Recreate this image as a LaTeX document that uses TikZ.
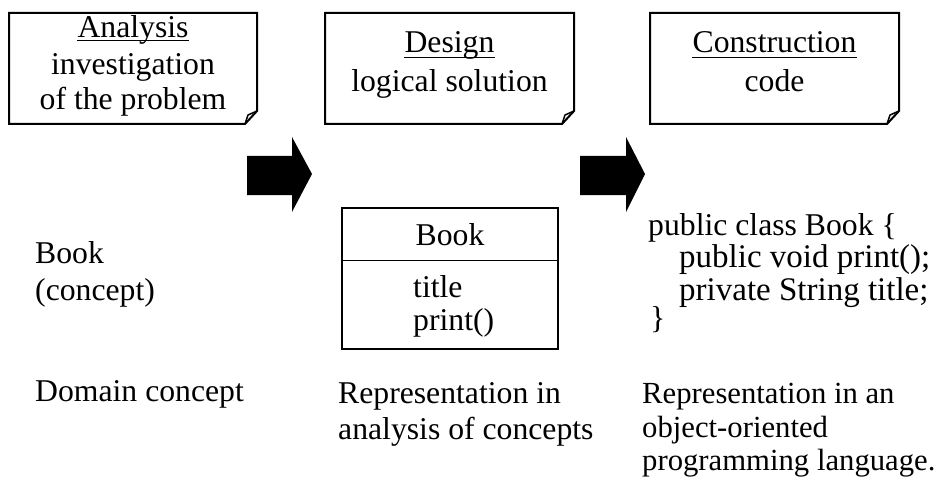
\documentclass[tikz,border=0pt]{standalone}
\usepackage{fontspec}
\setmainfont{Liberation Serif}
\begin{document}
\begin{tikzpicture}[x=1pt,y=-1pt,
  txt/.style={inner sep=0pt,font=\fontsize{31.7}{37}\selectfont},
  codetxt/.style={inner sep=0pt,font=\fontsize{33}{37}\selectfont},
  smalltxt/.style={inner sep=0pt,font=\fontsize{30.7}{36}\selectfont},
  uline/.style={line width=1.4pt},
  notebox/.style={line width=2pt,line join=miter},
  fold/.style={line width=1.5pt,line join=round},
  blockarrow/.style={fill=black,draw=none},
  classbox/.style={line width=2.5pt},
  divider/.style={line width=1pt}]
\useasboundingbox (0,0) rectangle (936,481);
% stage notes
\draw[notebox] (9,13) -- (257,13) -- (257,111) -- (245,124) -- (9,124) -- cycle;
\draw[fold] (257,111) -- (248,115) -- (245,124);
\draw[notebox] (325,13) -- (574,13) -- (574,111) -- (562,124) -- (325,124) -- cycle;
\draw[fold] (574,111) -- (565,115) -- (562,124);
\draw[notebox] (650,13) -- (899,13) -- (899,111) -- (887,124) -- (650,124) -- cycle;
\draw[fold] (899,111) -- (890,115) -- (887,124);
\node[txt,anchor=base] (an1) at (133,37.5) {Analysis};
\draw[uline] ([yshift=-3pt]an1.base west) -- ([yshift=-3pt]an1.base east);
\node[txt,anchor=base] (an2) at (133,74.5) {investigation};
\node[txt,anchor=base] (an3) at (133,110) {of the problem};
\node[txt,anchor=base] (de1) at (449.5,53) {Design};
\draw[uline] ([yshift=-4.5pt]de1.base west) -- ([yshift=-4.5pt]de1.base east);
\node[txt,anchor=base] (de2) at (449.5,92) {logical solution};
\node[txt,anchor=base] (co1) at (774.5,53) {Construction};
\draw[uline] ([yshift=-4.5pt]co1.base west) -- ([yshift=-4.5pt]co1.base east);
\node[txt,anchor=base] (co2) at (774.5,92) {code};
% block arrows
\fill[blockarrow] (247,156) -- (292,156) -- (292,137) -- (312,174) -- (292,212) -- (292,195) -- (247,195) -- cycle;
\fill[blockarrow] (580,156) -- (626,156) -- (626,137) -- (645,174) -- (626,212) -- (626,195) -- (580,195) -- cycle;
% domain concept
\node[txt,anchor=base west] (bk1) at (35,263) {Book};
\node[txt,anchor=base west] (bk2) at (35,300) {(concept)};
\node[txt,anchor=base west] (dc) at (35,401) {Domain concept};
% class box
\draw[classbox] (342,208) rectangle (558,349);
\draw[divider] (342,260) -- (558,260);
\node[txt,anchor=base] (cn) at (450,245) {Book};
\node[txt,anchor=base west] (ca) at (413,297) {title};
\node[txt,anchor=base west] (cm) at (413,330) {print()};
\node[txt,anchor=base west] (ra1) at (338,403) {Representation in};
\node[txt,anchor=base west] (ra2) at (338,439) {analysis of concepts};
% code
\node[txt,anchor=base west] (c1) at (648,235) {public class Book \{};
\node[codetxt,anchor=base west] (c2) at (679,267) {public void print();};
\node[codetxt,anchor=base west] (c3) at (679,300) {private String title;};
\node[txt,anchor=base west] (c4) at (650,328) {\}};
\node[smalltxt,anchor=base west] (ro1) at (642,403) {Representation in an};
\node[smalltxt,anchor=base west] (ro2) at (642,437) {object-oriented};
\node[smalltxt,anchor=base west] (ro3) at (642,470) {programming language.};
\end{tikzpicture}
\end{document}
